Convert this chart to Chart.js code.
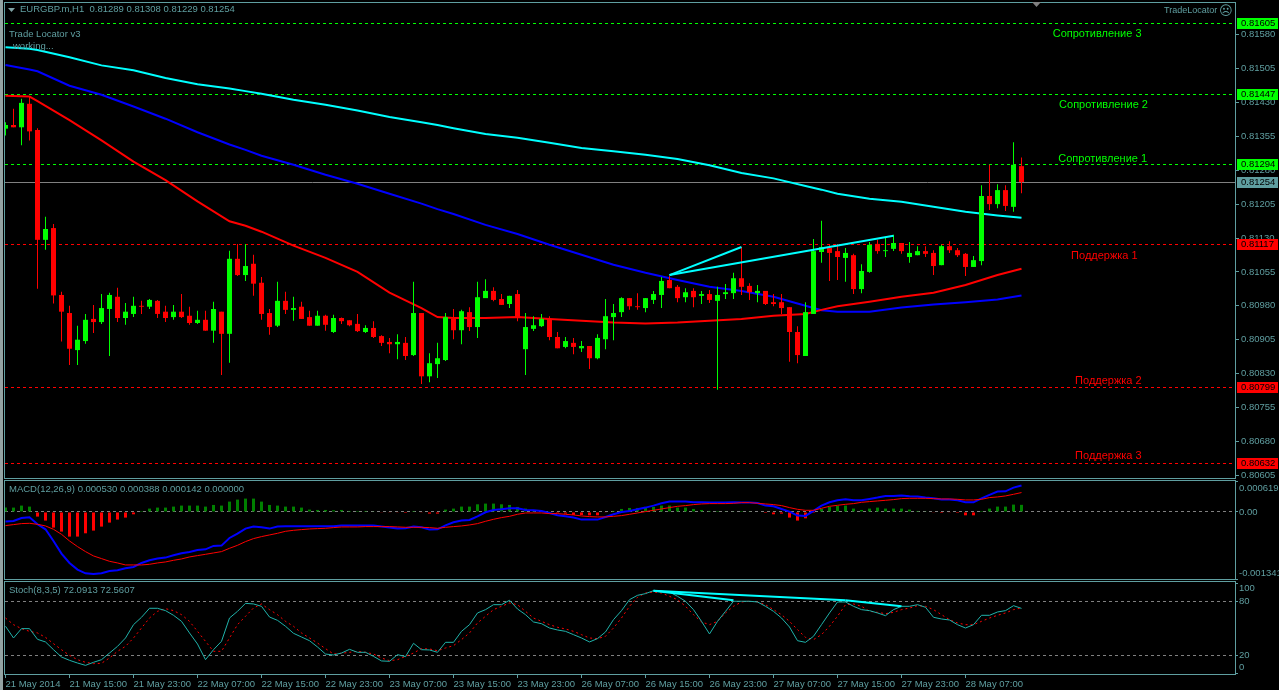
<!DOCTYPE html>
<html>
<head>
<meta charset="utf-8">
<title>EURGBP.m,H1</title>
<script src="https://cdn.jsdelivr.net/npm/chart.js@4"></script>
<style>
    html, body { margin: 0; padding: 0; background: #000; overflow: hidden; }
    canvas { position: absolute; left: 0; }
    #edge { position: absolute; left: 0; top: 0; width: 3px; height: 690px; background: #93a3a3; }
</style>
</head>
<body>
<canvas id="mainChart" width="1279" height="479" style="top:0"></canvas>
<canvas id="macdChart" width="1279" height="101" style="top:479px"></canvas>
<canvas id="stochChart" width="1279" height="110" style="top:580px"></canvas>
<div id="edge"></div>
<script>
// Prices are kept in points (0.81254 = 81254), one entry per H1 bar
const opens = [
    81372,81380,81375,81427,81369,81126,81152,81004,80964,80882,
    80902,80951,80944,80973,81000,80953,80962,80980,80978,80991,
    80967,80955,80967,80958,80942,80949,80925,80967,80918,81084,
    81048,81073,81031,80964,80936,80991,80971,80978,80955,80936,
    80958,80922,80953,80948,80940,80922,80931,80913,80900,80895,
    80898,80871,80964,80824,80851,80860,80951,80926,80966,80933,
    80997,81013,80995,80984,81006,80884,80929,80935,80951,80911,
    80889,80898,80886,80891,80864,80906,80955,80966,80997,80979,
    80975,80993,81004,81037,81022,80999,81013,81002,81006,80991,
    81006,81008,81041,81024,81008,81013,80988,80988,80977,80922,
    80869,80962,81099,81108,81101,81086,81092,81017,81055,81117,
    81101,81106,81119,81088,81092,81101,81097,81070,81112,81103,
    81095,81066,81079,81223,81205,81236,81199,81289
];
const highs = [
    81386,81416,81438,81442,81373,81177,81161,81011,80980,80936,
    80962,80982,81006,81009,81020,80986,81000,80991,80995,80993,
    80980,80982,81006,80978,80969,80969,80989,80967,81102,81117,
    81117,81093,81044,80973,81033,81011,81000,80989,80969,80969,
    80960,80960,80954,80948,80962,80937,80946,80915,80909,80917,
    80911,81033,80964,80875,80898,80964,80973,80971,80977,81033,
    81039,81021,81006,81002,81015,80964,80957,80962,80957,80922,
    80911,80909,80902,80891,80917,80995,80984,80999,80997,81008,
    80997,81013,81044,81046,81026,81019,81019,81013,81015,81022,
    81028,81053,81110,81030,81026,81013,81006,81006,80977,80935,
    80988,81128,81168,81115,81117,81108,81095,81072,81121,81126,
    81132,81137,81119,81121,81112,81112,81103,81115,81123,81108,
    81097,81090,81247,81292,81249,81247,81342,81308
];
const lows = [
    81357,81375,81335,81346,81018,81104,80985,80901,80849,80849,
    80896,80920,80940,80869,80944,80938,80955,80962,80973,80953,
    80944,80949,80953,80938,80940,80925,80898,80827,80854,81046,
    81035,81002,80949,80916,80933,80962,80947,80951,80936,80936,
    80925,80920,80940,80935,80922,80920,80909,80891,80875,80862,
    80860,80869,80807,80811,80820,80858,80906,80895,80924,80909,
    80997,80990,80982,80975,80946,80827,80924,80933,80904,80886,
    80886,80873,80878,80840,80862,80884,80904,80955,80971,80971,
    80966,80984,80975,81019,80988,80988,80977,80984,80986,80794,
    80995,80995,81004,80993,80988,80982,80979,80962,80856,80853,
    80869,80962,81075,81035,81037,81033,81006,81008,81053,81095,
    81088,81101,81095,81075,81092,81088,81048,81070,81097,81088,
    81046,81066,81070,81192,81196,81190,81188,81229
];
const closes = [
    81380,81375,81429,81366,81126,81150,81003,80967,80885,80905,
    80949,80944,80975,81004,80953,80967,80980,80978,80993,80962,
    80953,80967,80955,80942,80949,80925,80973,80918,81084,81048,
    81068,81029,80962,80933,80991,80971,80975,80951,80936,80958,
    80938,80953,80946,80937,80924,80931,80911,80898,80895,80900,
    80869,80964,80824,80853,80864,80955,80926,80968,80933,80999,
    81013,80993,80982,81002,80955,80933,80937,80951,80911,80886,
    80902,80889,80891,80864,80909,80957,80964,80997,80979,80977,
    80997,81006,81035,81019,80997,81010,80999,81006,80993,81004,
    81010,81041,81022,81010,81013,80984,80984,80975,80922,80871,
    80966,81101,81110,81097,81088,81097,81017,81057,81115,81101,
    81103,81119,81101,81097,81101,81095,81068,81112,81103,81092,
    81066,81081,81223,81205,81236,81201,81292,81254
];

// Moving averages, read at these bars only
const maBars = [0,3,4,8,12,16,20,24,28,30,32,36,40,44,48,52,54,56,60,64,68,72,76,80,84,88,92,96,100,102,104,108,112,116,120,124,127];
const maCyan = [81552,81549,81546,81530,81512,81501,81484,81470,81461,81455,81449,81436,81425,81412,81398,81386,81380,81373,81360,81352,81341,81329,81322,81314,81305,81291,81274,81262,81245,81237,81228,81217,81210,81199,81188,81180,81175];
const maBlue = [81513,81503,81499,81467,81447,81421,81394,81364,81337,81325,81312,81292,81270,81250,81228,81206,81194,81183,81159,81139,81115,81093,81071,81053,81037,81022,81013,81000,80980,80970,80967,80967,80976,80983,80988,80994,81003];
const maRed = [81445,81443,81433,81391,81346,81299,81258,81211,81167,81157,81144,81113,81086,81055,81009,80975,80955,80953,80953,80955,80951,80947,80943,80941,80943,80947,80951,80958,80962,80971,80979,80989,81000,81009,81026,81048,81062];

// Trend lines on the price window: [bar, price, bar, price]
const priceTrends = [
    [83, 81048, 92, 81110],
    [83, 81048, 111, 81135]
];

// Levels and last price
const resistanceLevels = [81605, 81447, 81294];
const supportLevels = [81117, 80799, 80632];
const lastPrice = 81254;
const levelLabels = ['Сопротивление 3', 'Сопротивление 2', 'Сопротивление 1', 'Поддержка 1', 'Поддержка 2', 'Поддержка 3'];
const levelLabelBars = [130.9, 131.7, 131.6, 133.2, 133.7, 133.7];
const levelLabelPrices = [81582, 81425, 81305, 81091, 80814, 80648];

const priceTicks = [81580, 81505, 81430, 81355, 81280, 81205, 81130, 81055, 80980, 80905, 80830, 80755, 80680, 80605];

// MACD in millionths (0.000530 = 530)
const macdHist = [
    87,87,127,107,-93,-173,-313,-393,-493,-493,
    -427,-373,-293,-213,-153,-113,-47,20,67,87,
    87,107,127,127,127,107,140,127,207,247,
    267,267,207,140,127,107,107,87,47,40,
    40,33,40,20,20,20,7,-7,-13,-13,
    -20,20,-13,-33,-33,47,67,107,107,153,
    167,167,153,140,100,67,20,20,13,-20,
    -33,-60,-60,-67,-67,-7,20,60,80,80,
    87,100,127,127,87,87,60,40,20,20,
    13,7,20,7,0,-20,-47,-33,-113,-173,
    -127,-20,60,100,120,127,67,40,67,87,
    67,67,67,47,20,7,-13,-20,-13,-20,
    -67,-67,20,67,107,107,147,142
];
const macdMain = [
    -193,-180,-120,-107,-247,-347,-580,-833,-1020,-1153,
    -1227,-1240,-1227,-1180,-1167,-1127,-1100,-1020,-967,-933,
    -913,-867,-827,-800,-760,-747,-680,-673,-520,-433,
    -333,-293,-307,-333,-293,-287,-287,-287,-287,-287,
    -287,-287,-273,-273,-273,-273,-273,-293,-313,-333,
    -327,-293,-307,-353,-347,-267,-207,-173,-160,-87,
    -7,40,53,73,73,40,33,20,-20,-67,
    -87,-113,-153,-153,-153,-100,-47,0,20,53,
    87,127,173,207,207,207,193,193,187,187,
    187,193,187,187,180,127,113,60,7,-73,
    -80,20,127,193,233,253,233,233,260,287,
    320,320,327,313,307,287,273,247,247,233,
    193,193,273,340,407,413,487,530
];
const macdSignal = [
    -273,-253,-233,-227,-247,-280,-347,-447,-580,-693,
    -793,-880,-933,-987,-1020,-1060,-1060,-1060,-1047,-1020,
    -1000,-967,-940,-900,-873,-847,-820,-793,-727,-667,
    -593,-533,-493,-460,-427,-387,-367,-353,-340,-333,
    -327,-313,-300,-300,-300,-293,-293,-293,-293,-300,
    -307,-307,-307,-313,-327,-307,-293,-280,-260,-233,
    -187,-147,-113,-87,-47,-20,-20,-20,-33,-33,
    -47,-60,-80,-93,-100,-100,-87,-73,-47,-20,
    7,33,60,87,113,127,147,160,167,167,
    167,173,187,187,173,160,147,127,87,53,
    33,33,73,113,133,153,167,193,207,220,
    233,247,267,273,273,273,267,260,260,253,
    240,240,253,287,300,320,353,388
];
const macdTicks = [619, 0, -1341];

// Stochastic
const stochMain = [
    52.2,39.2,49.6,49.6,37.7,34.8,26.2,18.1,14.4,11.4,
    8.8,12.2,15.1,22.5,29.9,39.2,54.0,62.2,72.2,72.2,
    69.6,64.4,57.7,44.8,32.5,15.1,26.2,35.5,61.4,68.8,
    77.7,77.0,74.4,62.5,58.8,52.2,44.4,40.3,36.2,29.2,
    21.4,20.3,22.5,26.6,23.3,23.3,18.8,13.7,13.3,20.7,
    18.5,33.3,26.2,25.9,23.3,34.4,34.4,46.6,54.0,67.0,
    70.7,76.2,76.2,81.1,71.4,65.1,57.0,55.1,50.3,48.1,
    46.6,42.9,39.2,34.8,38.5,45.9,59.6,69.6,81.8,86.6,
    88.5,91.8,91.1,90.3,85.5,80.0,70.7,57.7,43.7,57.7,
    68.8,80.0,80.0,80.0,79.2,74.4,68.8,61.4,51.4,36.2,
    34.4,41.1,54.0,67.0,79.2,79.2,74.4,70.7,69.6,67.0,
    64.0,70.7,74.4,74.4,76.2,73.3,62.2,60.3,59.2,54.0,
    50.3,54.0,64.4,64.4,68.1,69.6,75.1,72.1
];
const stochSignal = [
    61.4,54.0,49.6,46.6,44.8,39.9,32.9,26.2,19.9,15.1,
    12.2,10.7,11.1,17.0,24.4,29.9,39.2,50.3,61.4,68.8,
    71.8,69.6,65.1,57.7,46.6,35.5,24.4,24.4,39.2,54.0,
    63.3,72.5,77.0,70.7,65.1,57.7,52.2,44.8,39.2,33.6,
    27.4,21.4,22.2,23.3,24.4,23.3,21.4,17.0,14.0,15.1,
    18.8,22.5,27.4,27.0,25.1,28.1,30.7,37.4,44.8,55.9,
    63.3,70.7,74.4,78.1,76.2,68.8,61.4,57.7,54.0,51.1,
    49.2,46.6,42.9,39.2,38.5,41.1,50.3,61.4,74.4,84.4,
    89.2,90.3,89.2,85.5,81.8,74.4,65.1,57.0,54.0,57.7,
    67.0,74.4,79.2,80.0,79.2,76.2,70.7,65.1,57.7,48.5,
    39.9,37.4,42.9,52.2,63.3,76.2,77.0,74.4,68.8,67.7,
    66.2,67.7,70.7,72.5,75.1,74.4,70.7,65.1,59.6,55.9,
    54.0,54.0,57.7,61.4,64.4,67.0,70.7,72.6
];
const stochTicks = [100, 80, 20, 0];
const stochTrends = [
    [81, 91.8, 91, 81.1],
    [81, 91.8, 105, 81.1],
    [105, 81.1, 112, 74.4]
];

// Time axis
const timeTickBars = [0, 8, 16, 24, 32, 40, 48, 56, 64, 72, 80, 88, 96, 104, 112, 120];
const timeLabels = ['21 May 2014', '21 May 15:00', '21 May 23:00', '22 May 07:00', '22 May 15:00', '22 May 23:00', '23 May 07:00', '23 May 15:00', '23 May 23:00', '26 May 07:00', '26 May 15:00', '26 May 23:00', '27 May 07:00', '27 May 15:00', '27 May 23:00', '28 May 07:00'];

const FRAME = '#5f9ea0';
const TICK_FONT = { family: "'Liberation Sans', sans-serif", size: 9.5 };
const LIME = '#00ff00';
const RED = '#ff0000';

const bars = opens.map((_, i) => i);
const series = (values) => values.map((y, i) => ({ x: i, y }));
const sampled = (values) => values.map((y, i) => ({ x: maBars[i], y }));
const trendData = (t) => [{ x: t[0], y: t[1] }, { x: t[2], y: t[3] }];

// bar 0 sits half a pixel into the plot, 8px per bar
const xBase = { type: 'linear', min: -0.0625, max: 153.6875, offset: false };

function yAxis(min, max, values, format, extra) {
    return Object.assign({
        position: 'right',
        min, max,
        border: { display: false },
        grid: { color: 'transparent', tickColor: FRAME, tickLength: 4 },
        ticks: { color: FRAME, font: TICK_FONT, padding: 2, autoSkip: false, callback: format },
        afterBuildTicks: (scale) => { scale.ticks = values.map(value => ({ value })); },
        afterFit: (scale) => {
            scale.width = 44;
            scale.paddingTop = 0;
            scale.paddingBottom = 0;
        }
    }, extra);
}

// Frame round the plot, plus optional shift of the edge tick labels into the window
function framePlugin(nudges) {
    return {
        id: 'frame',
        beforeDraw(chart) {
            if (!nudges) return;
            const items = chart.scales.y.getLabelItems();
            nudges.forEach((dy, i) => { items[i].options.translation[1] += dy; });
        },
        afterDatasetsDraw(chart) {
            const a = chart.chartArea;
            const ctx = chart.ctx;
            ctx.save();
            ctx.strokeStyle = FRAME;
            ctx.lineWidth = 1;
            ctx.strokeRect(a.left - 0.5, a.top - 0.5, a.right - a.left + 1, a.bottom - a.top + 1);
            ctx.restore();
        }
    };
}

function text(ctx, str, x, y, color, font) {
    ctx.fillStyle = color;
    ctx.font = font;
    ctx.textAlign = 'left';
    ctx.textBaseline = 'middle';
    ctx.fillText(str, x, y);
}

const levelsPlugin = {
    id: 'levels',
    beforeDatasetsDraw(chart) {
        const ctx = chart.ctx;
        const a = chart.chartArea;
        const y = chart.scales.y;
        const line = (price, color, dash) => {
            const py = Math.floor(y.getPixelForValue(price) + 0.2) + 0.5;
            ctx.strokeStyle = color;
            ctx.setLineDash(dash);
            ctx.beginPath();
            ctx.moveTo(a.left, py);
            ctx.lineTo(a.right, py);
            ctx.stroke();
        };
        ctx.save();
        ctx.lineWidth = 1;
        resistanceLevels.forEach(p => line(p, LIME, [3, 3]));
        supportLevels.forEach(p => line(p, RED, [3, 3]));
        line(lastPrice, '#808080', []);
        ctx.restore();
    },
    afterDraw(chart) {
        const ctx = chart.ctx;
        const y = chart.scales.y;
        const x = chart.scales.x;
        const labelFont = "11px 'Liberation Sans', sans-serif";
        const smallFont = "9.5px 'Liberation Sans', sans-serif";
        ctx.save();

        // Price tags on the axis
        const tag = (price, color) => {
            const py = Math.floor(y.getPixelForValue(price) + 0.2);
            ctx.fillStyle = color;
            ctx.fillRect(1237, py - 5, 41, 11);
            text(ctx, (price / 100000).toFixed(5), 1241, py + 0.5, '#000', smallFont);
        };
        resistanceLevels.forEach(p => tag(p, LIME));
        supportLevels.forEach(p => tag(p, RED));
        tag(lastPrice, FRAME);

        // Level names
        levelLabels.forEach((name, i) => {
            text(ctx, name, x.getPixelForValue(levelLabelBars[i]), y.getPixelForValue(levelLabelPrices[i]), i < 3 ? LIME : RED, labelFont);
        });

        // Window header and indicator captions
        ctx.fillStyle = '#7fa3a5';
        ctx.beginPath();
        ctx.moveTo(8, 8);
        ctx.lineTo(15, 8);
        ctx.lineTo(11.5, 12);
        ctx.fill();
        text(ctx, 'EURGBP.m,H1  0.81289 0.81308 0.81229 0.81254', 20, 9.5, FRAME, smallFont);
        text(ctx, 'Trade Locator v3', 9, 34.5, FRAME, smallFont);
        text(ctx, 'working...', 13, 46.5, FRAME, smallFont);
        text(ctx, 'TradeLocator', 1164, 10.5, FRAME, "9px 'Liberation Sans', sans-serif");
        text(ctx, '☹', 1219, 11.5, FRAME, "13px 'DejaVu Sans', sans-serif");

        ctx.fillStyle = '#808080';
        ctx.beginPath();
        ctx.moveTo(1032, 2);
        ctx.lineTo(1041, 2);
        ctx.lineTo(1036.5, 7);
        ctx.fill();
        ctx.restore();
    }
};

const captionPlugin = (caption, top) => ({
    id: 'caption',
    afterDraw(chart) {
        const ctx = chart.ctx;
        ctx.save();
        text(ctx, caption, 9, top, FRAME, "9.5px 'Liberation Sans', sans-serif");
        ctx.restore();
    }
});

const commonOptions = {
    responsive: false,
    devicePixelRatio: 1,
    animation: false,
    events: [],
    plugins: { legend: { display: false }, tooltip: { enabled: false } },
    elements: { point: { radius: 0 }, line: { tension: 0 } }
};

// Price window
new Chart(document.getElementById('mainChart').getContext('2d'), {
    type: 'bar',
    data: {
        datasets: [
            ...priceTrends.map(t => ({ type: 'line', data: trendData(t), borderColor: '#00ffff', borderWidth: 2, order: 0 })),
            {
                data: bars.map(i => ({ x: i, y: [opens[i], closes[i]] })),
                backgroundColor: bars.map(i => closes[i] >= opens[i] ? LIME : RED),
                barThickness: 5, inflateAmount: 0, grouped: false, order: 1
            },
            {
                data: bars.map(i => ({ x: i, y: [lows[i], highs[i]] })),
                backgroundColor: bars.map(i => closes[i] >= opens[i] ? LIME : RED),
                barThickness: 1, inflateAmount: 0, grouped: false, order: 2
            },
            { type: 'line', data: sampled(maRed), borderColor: RED, borderWidth: 2, order: 3 },
            { type: 'line', data: sampled(maBlue), borderColor: '#0000ff', borderWidth: 2, order: 4 },
            { type: 'line', data: sampled(maCyan), borderColor: '#00ffff', borderWidth: 2, order: 5 }
        ]
    },
    options: {
        ...commonOptions,
        layout: { padding: { left: 5, top: 3, bottom: 1 } },
        scales: {
            x: { ...xBase, display: false },
            y: yAxis(80599, 81650, priceTicks, v => (v / 100000).toFixed(5))
        }
    },
    plugins: [levelsPlugin, framePlugin()]
});

// MACD window
new Chart(document.getElementById('macdChart').getContext('2d'), {
    type: 'bar',
    data: {
        datasets: [
            { type: 'line', data: series(macdSignal), borderColor: RED, borderWidth: 1, order: 0 },
            { type: 'line', data: series(macdMain), borderColor: '#0000ff', borderWidth: 2, order: 1 },
            {
                data: series(macdHist),
                backgroundColor: macdHist.map(v => v >= 0 ? '#008000' : RED),
                barThickness: 3, inflateAmount: 0, grouped: false, order: 2
            }
        ]
    },
    options: {
        ...commonOptions,
        layout: { padding: { left: 5, top: 2, bottom: 1 } },
        scales: {
            x: { ...xBase, display: false },
            y: yAxis(-1341, 619, macdTicks, v => v === 0 ? '0.00' : (v / 1000000).toFixed(6), {
                border: { display: false, dash: [3, 3] },
                grid: { color: c => c.tick && c.tick.value === 0 ? '#808080' : 'transparent', tickColor: FRAME, tickLength: 3, tickBorderDash: [] },
                ticks: { color: FRAME, font: TICK_FONT, padding: 1, autoSkip: false, callback: v => v === 0 ? '0.00' : (v / 1000000).toFixed(6) }
            })
        }
    },
    plugins: [framePlugin([7, 0, -6]), captionPlugin('MACD(12,26,9) 0.000530 0.000388 0.000142 0.000000', 10)]
});

// Stochastic window, carries the time axis
new Chart(document.getElementById('stochChart').getContext('2d'), {
    type: 'line',
    data: {
        datasets: [
            ...stochTrends.map(t => ({ data: trendData(t), borderColor: '#00ffff', borderWidth: 2, order: 0 })),
            { data: series(stochMain), borderColor: '#20b2aa', borderWidth: 1, order: 1 },
            { data: series(stochSignal), borderColor: RED, borderWidth: 1, borderDash: [2, 3], order: 2 }
        ]
    },
    options: {
        ...commonOptions,
        layout: { padding: { left: 5, top: 2 } },
        scales: {
            x: {
                ...xBase,
                grid: { drawOnChartArea: false, tickColor: FRAME, tickLength: 4 },
                border: { display: false },
                ticks: {
                    color: FRAME, font: TICK_FONT, padding: 1, maxRotation: 0, autoSkip: false, align: 'start',
                    callback: v => timeLabels[timeTickBars.indexOf(v)]
                },
                afterBuildTicks: (scale) => { scale.ticks = timeTickBars.map(value => ({ value })); },
                afterFit: (scale) => {
                    scale.height = 16;
                    scale.paddingLeft = 0;
                    scale.paddingRight = 0;
                }
            },
            y: yAxis(-0.8, 101.4, stochTicks, v => String(v), {
                border: { display: false, dash: [3, 3] },
                grid: { color: c => c.tick && (c.tick.value === 80 || c.tick.value === 20) ? '#808080' : 'transparent', tickColor: FRAME, tickLength: 3, tickBorderDash: [] },
                ticks: { color: FRAME, font: TICK_FONT, padding: 1, autoSkip: false, callback: v => String(v) }
            })
        }
    },
    plugins: [framePlugin([5, 0, 0, -6]), captionPlugin('Stoch(8,3,5) 72.0913 72.5607', 10)]
});
</script>
</body>
</html>
